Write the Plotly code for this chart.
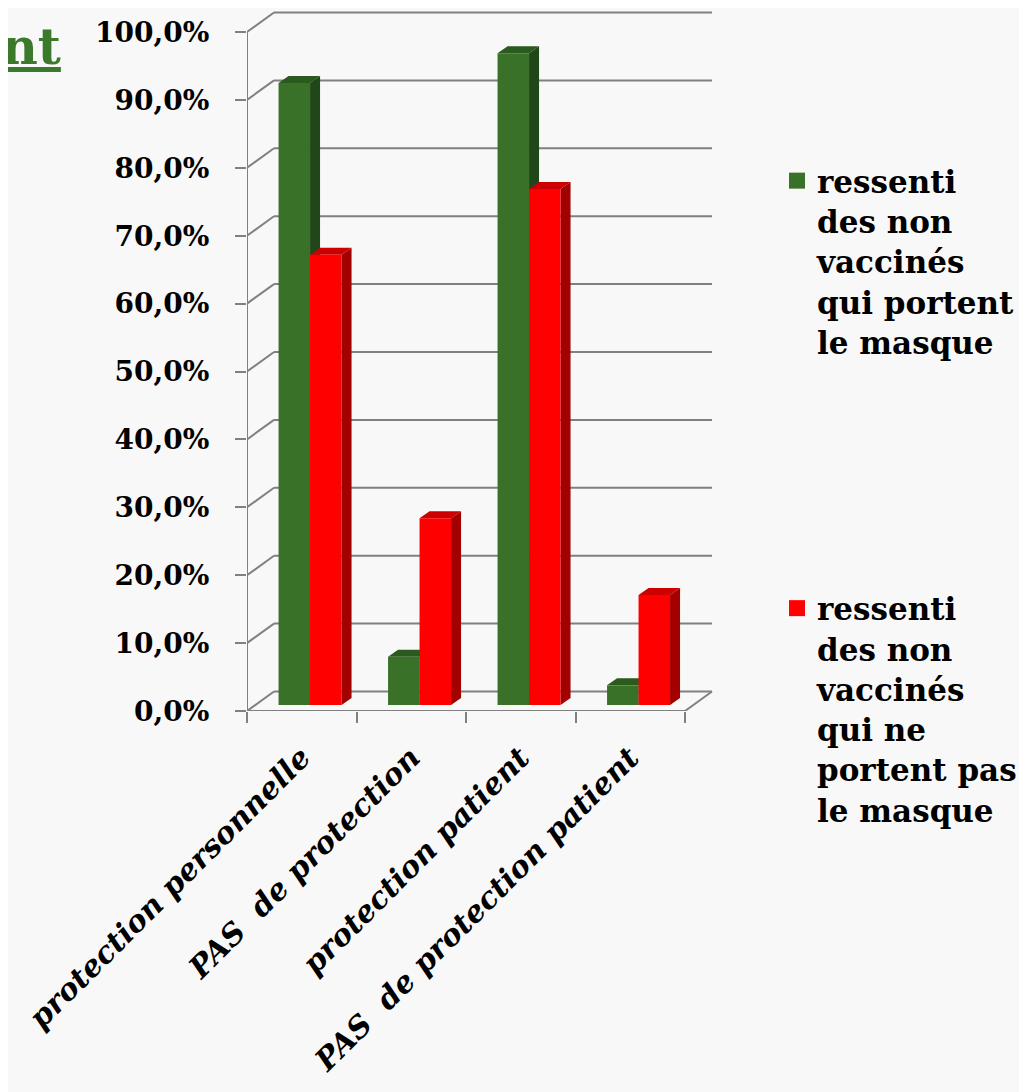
import plotly.graph_objects as go

# ---------------- data ----------------
categories = ["protection personnelle", "PAS  de protection",
              "protection patient", "PAS  de protection patient"]
series_names = ["ressenti<br>des non<br>vaccinés<br>qui portent<br>le masque",
                "ressenti<br>des non<br>vaccinés<br>qui ne<br>portent pas<br>le masque"]
green_values = [91.6, 7.1, 96.0, 2.9]
red_values = [66.3, 27.5, 76.0, 16.2]
pct_ticks = [0, 10, 20, 30, 40, 50, 60, 70, 80, 90, 100]
pct_labels = [f"{v:.1f}".replace(".", ",") + "%" for v in pct_ticks]

# ---------------- geometry / style ----------------
OFF = 8                                   # page body margin
W, H = 1027 - OFF, 1092 - OFF
def fx(px):                               # screen px -> figure px
    return px - OFF

PL, PR, PT, PB = 247, 720, 10, 711        # plot area (screen px)
UNIT_X = 109.5                            # px per category
UNIT_Y = 6.79                             # px per percent
X0 = -0.5
X_RANGE = [X0, X0 + (PR - PL) / UNIT_X]
Y_RANGE = [0, (PB - PT) / UNIT_Y]

DXW, DYW = 27 / UNIT_X, 19.5 / UNIT_Y     # back wall offset
DXB, DYB = 8.3 / UNIT_X, 6.0 / UNIT_Y     # bar plane offset
DDX, DDY = 10 / UNIT_X, 7.0 / UNIT_Y      # bar depth
BW = 31.5 / UNIT_X                        # bar width

GRID = "#808080"
BG = "#f8f8f8"
FRONT = ["#3a7128", "#ff0000"]
SIDE = ["#21461a", "#a30000"]
TOP = ["#2a5a1e", "#cc0000"]
FONT = "DejaVu Serif"

n = len(categories)
xmax = X0 + n

shapes = []
def line(x0, y0, x1, y1):
    shapes.append(dict(type="line", xref="x", yref="y", x0=x0, y0=y0, x1=x1, y1=y1,
                       line=dict(color=GRID, width=2), layer="between"))

# back wall gridlines and side-wall diagonals
for v in pct_ticks:
    line(X0 + DXW, v + DYW, xmax + DXW, v + DYW)
    line(X0, v, X0 + DXW, v + DYW)
# floor
line(X0, 0, xmax, 0)
line(xmax, 0, xmax + DXW, DYW)
# front vertical axis
line(X0, 0, X0, pct_ticks[-1])

fig = go.Figure()
series = [green_values, red_values]
for i in range(n):
    for s in range(2):
        v = series[s][i]
        xc = i + DXB + (s - 0.5) * BW
        xl, xr = xc - BW / 2, xc + BW / 2
        b, t = DYB, DYB + v
        side = f"M{xr},{b} L{xr+DDX},{b+DDY} L{xr+DDX},{t+DDY} L{xr},{t} Z"
        top = f"M{xl},{t} L{xr},{t} L{xr+DDX},{t+DDY} L{xl+DDX},{t+DDY} Z"
        for p, c in ((side, SIDE[s]), (top, TOP[s])):
            shapes.append(dict(type="path", xref="x", yref="y", path=p,
                               fillcolor=c, line=dict(width=0), layer="between"))

for s in range(2):
    xs = [i + DXB + (s - 0.5) * BW for i in range(n)]
    fig.add_trace(go.Bar(
        x=xs, y=series[s], base=DYB, width=BW, name=series_names[s],
        marker=dict(color=FRONT[s], line=dict(width=0)),
        legendgroup=f"g{s}", showlegend=False, hoverinfo="y"))
    # legend entry with a larger square key
    fig.add_trace(go.Scatter(
        x=[None], y=[None], mode="markers", name=series_names[s],
        marker=dict(symbol="square", size=16, color=FRONT[s], line=dict(width=0)),
        legendgroup=f"g{s}", showlegend=True))

def paper_x(px):
    return (px - PL) / (PR - PL)

def paper_y(py):
    return (PB - py) / (PB - PT)

fig.update_layout(
    width=W, height=H,
    margin=dict(l=fx(PL), r=W - fx(PR), t=fx(PT), b=H - fx(PB), autoexpand=False),
    paper_bgcolor=BG, plot_bgcolor=BG,
    barmode="overlay",
    shapes=shapes,
    showlegend=True,
    legend=dict(x=paper_x(777), y=paper_y(154), xanchor="left", yanchor="top",
                bgcolor="rgba(0,0,0,0)", tracegroupgap=223, valign="top",
                itemsizing="trace",
                font=dict(family=FONT, size=31, color="black", weight="bold")),
    xaxis=dict(range=X_RANGE, showgrid=False, zeroline=False, showline=False,
               tickmode="array", tickvals=list(range(n)), ticktext=categories,
               ticks="", tickangle=-45, ticklabelstandoff=22, ticklabeloverflow="allow",
               tickfont=dict(family=FONT, size=30, color="black", weight="bold", style="italic"),
               minor=dict(ticks="outside", ticklen=11, tickwidth=2, tickcolor=GRID,
                          tick0=X0, dtick=1, showgrid=False)),
    yaxis=dict(range=Y_RANGE, showgrid=False, zeroline=False, showline=False,
               tickmode="array", tickvals=pct_ticks, ticktext=pct_labels,
               ticks="outside", ticklen=11, tickwidth=2, tickcolor=GRID,
               ticklabelstandoff=20,
               tickfont=dict(family=FONT, size=28, color="black", weight="bold")),
    annotations=[dict(text="<u>ant</u>", xref="paper", yref="paper",
                      x=paper_x(63), y=paper_y(47),
                      xanchor="right", yanchor="middle", showarrow=False,
                      font=dict(family=FONT, size=50, color="#3b7a2a", weight="bold"))],
)

fig.write_html("out.html")
